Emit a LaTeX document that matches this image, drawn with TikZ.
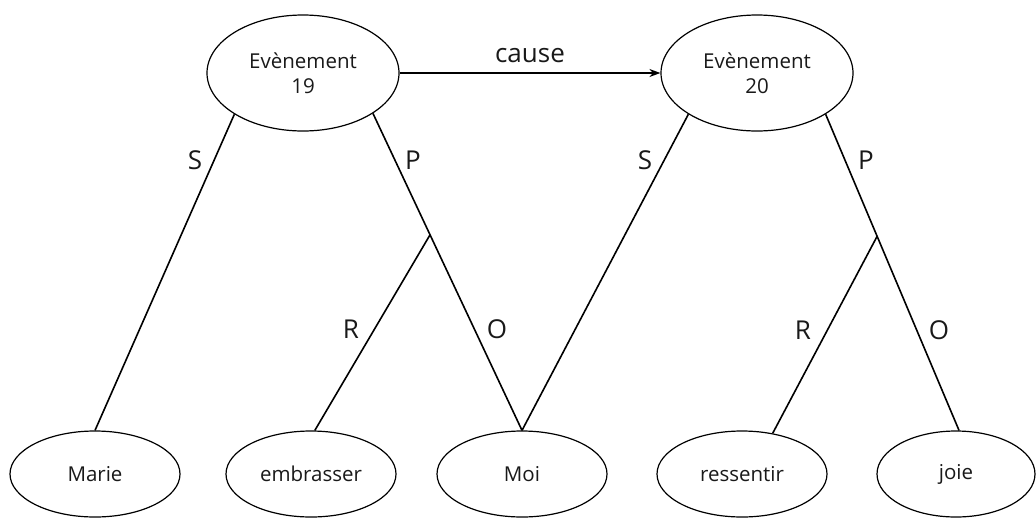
\documentclass[tikz,border=0pt]{standalone}
\usepackage{fontspec}
\setmainfont{Open Sans}
\usetikzlibrary{shapes.geometric,arrows.meta,calc}
\begin{document}
\begin{tikzpicture}[x=1pt,y=-1pt,
  event/.style={ellipse,draw,line width=1.2pt,minimum width=192pt,minimum height=116pt,
    inner sep=0pt,align=center,text=black!90,font=\fontsize{20.5}{25}\selectfont},
  entity/.style={ellipse,draw,line width=1.2pt,minimum width=170pt,minimum height=86pt,
    inner sep=0pt,text=black!90,font=\fontsize{20.5}{24}\selectfont},
  link/.style={line width=1.6pt},
  role/.style={text=black!90,font=\fontsize{26}{30}\selectfont,inner sep=0pt}]
\useasboundingbox (0,0) rectangle (1036,517);

% events
\node[event] (e19) at (303,73) {Evènement\\19};
\node[event] (e20) at (757,73) {Evènement\\20};

% participants
\node[entity] (marie) at (95,474) {Marie};
\node[entity] (embr) at (311,474) {embrasser};
\node[entity] (moi) at (522,474) {Moi};
\node[entity] (ress) at (742,474) {ressentir};
\node[entity,minimum width=158pt] (joie) at (956,474) {joie};

% causal link
\draw[link,-{Stealth[length=11pt,width=8pt]}] (e19) -- (e20)
  node[role,midway,above=9pt] (cause) {cause};

% event 19
\draw[link] (e19.211) -- (marie.north);
\draw[link] (e19.-30) -- (moi.north);
\coordinate (j19) at ($(e19.-30)!0.383!(moi.north)$);
\draw[link] (j19) -- (embr.85);

% event 20
\draw[link] (e20.211) -- (moi.north);
\draw[link] (e20.-31) -- (joie.86);
\coordinate (j20) at ($(e20.-31)!0.386!(joie.86)$);
\draw[link] (j20) -- (ress.53);

% role labels
\node[role] (s19) at (195,160) {S};
\node[role] (p19) at (413,160) {P};
\node[role] (r19) at (351,329) {R};
\node[role] (o19) at (497,329) {O};
\node[role] (s20) at (645,160) {S};
\node[role] (p20) at (866,160) {P};
\node[role] (r20) at (803,330) {R};
\node[role] (o20) at (939,330) {O};
\end{tikzpicture}
\end{document}
